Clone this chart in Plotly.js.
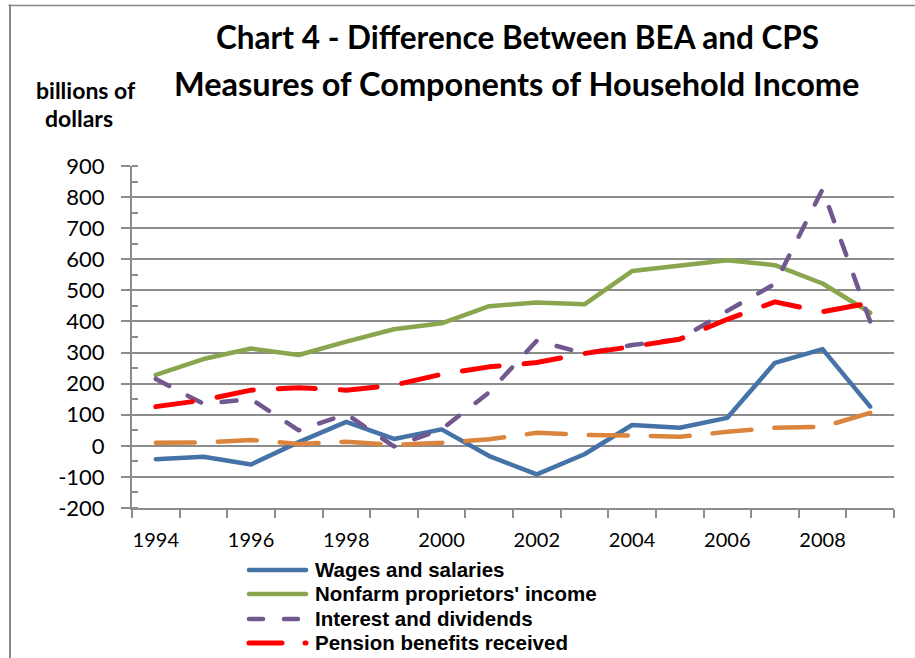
<!DOCTYPE html>
<html>
<head>
<meta charset="utf-8">
<script src="https://cdn.plot.ly/plotly-3.0.1.min.js"></script>
<style>
  html, body { margin: 0; padding: 0; background: #fff; }
  #chart { width: 915px; height: 658px; }
  #chart .scatterlayer path.js-line { stroke-linecap: round; stroke-linejoin: round; }
  #chart .shapelayer path { stroke-linecap: round; }
</style>
</head>
<body>
<div id="chart"></div>
<script>
// ---- data ----
const years = [1994, 1995, 1996, 1997, 1998, 1999, 2000, 2001, 2002, 2003, 2004, 2005, 2006, 2007, 2008, 2009];
const wages = [-43, -35, -60, 12, 77, 22, 53, -33, -92, -27, 67, 58, 90, 267, 311, 126];
const nonfarm = [228, 279, 313, 292, 335, 375, 394, 449, 461, 455, 562, 578, 597, 581, 522, 428];
const interest = [215, 135, 150, 50, 102, -2, 53, 172, 338, 297, 324, 343, 434, 521, 825, 400];
const pension = [126, 147, 179, 187, 179, 195, 230, 254, 268, 297, 319, 343, 407, 463, 431, 460];
const other = [10, 11, 19, 6, 13, 3, 10, 21, 42, 35, 33, 29, 45, 58, 61, 106];
const xLabelYears = [1994, 1996, 1998, 2000, 2002, 2004, 2006, 2008];
const yTicks = [-200, -100, 0, 100, 200, 300, 400, 500, 600, 700, 800, 900];
const yTickText = ['-200', '-100', '0', '100', '200', '300', '400', '500', '600', '700', '800', '900'];

const seriesNames = ["Wages and salaries", "Nonfarm proprietors' income", "Interest and dividends", "Pension benefits received"];

// ---- layout geometry ----
const W = 915, H = 658;
const M = { l: 132, r: 21, t: 166, b: 150, autoexpand: false };
const pw = W - M.l - M.r, ph = H - M.t - M.b;
const px2x = p => (p - M.l) / pw;
const px2y = p => (H - M.b - p) / ph;

const grid = '#8c8c8c';
const boundaries = [];
for (let i = 0; i <= years.length; i++) boundaries.push(years[0] - 0.5 + i);

const styles = [
  { color: '#4572A7', width: 4.5 },
  { color: '#89A54E', width: 4.5 },
  { color: '#71588F', width: 4.5, dash: '15px,21px' },
  { color: '#FF0000', width: 5, dash: '37px,25px' },
  { color: '#DB843D', width: 4.5, dash: '39px,23px' }
];
const legendStyles = [
  { color: '#4572A7', width: 4.5 },
  { color: '#89A54E', width: 4.5 },
  { color: '#71588F', width: 4.5, dash: '14px,21px' },
  { color: '#FF0000', width: 5, dash: '33px,23px' }
];

const traces = [
  { x: years, y: wages, name: seriesNames[0], mode: 'lines', line: styles[0] },
  { x: years, y: nonfarm, name: seriesNames[1], mode: 'lines', line: styles[1] },
  { x: years, y: interest, name: seriesNames[2], mode: 'lines', line: styles[2] },
  { x: years, y: pension, name: seriesNames[3], mode: 'lines', line: styles[3] },
  { x: years, y: other, name: 'other', mode: 'lines', line: styles[4] },
  { x: [years[0]], y: [null], xaxis: 'x2', hoverinfo: 'skip', mode: 'lines' }
];

// custom legend (to match the reference's compact rows and long samples)
const legRowY = [569, 593, 618, 642];
const legendAnn = seriesNames.map((n, i) => ({
  text: '<b>' + n.replace(/'/g, '&#39;') + '</b>', xref: 'paper', yref: 'paper',
  x: px2x(313), y: px2y(legRowY[i]), xanchor: 'left', yanchor: 'middle', showarrow: false,
  font: { family: '"Liberation Sans", Arial, sans-serif', size: 20.5, color: '#000' }
}));
const legendShapes = seriesNames.map((n, i) => ({
  type: 'line', xref: 'paper', yref: 'paper',
  x0: px2x(249), x1: px2x(306), y0: px2y(legRowY[i] + 1), y1: px2y(legRowY[i] + 1),
  line: legendStyles[i]
}));

const layout = {
  width: W, height: H,
  margin: M,
  paper_bgcolor: '#fff', plot_bgcolor: '#fff',
  showlegend: false,
  font: { family: 'Lato, "Liberation Sans", sans-serif', color: '#000' },
  xaxis: {
    range: [years[0] - 0.5, years[years.length - 1] + 0.5],
    tickmode: 'array', tickvals: boundaries, showticklabels: false,
    ticks: 'outside', ticklen: 8, tickwidth: 2, tickcolor: grid,
    showgrid: false, zeroline: false,
    showline: true, linecolor: grid, linewidth: 2, fixedrange: true
  },
  xaxis2: {
    overlaying: 'x', anchor: 'y', side: 'bottom',
    range: [years[0] - 0.5, years[years.length - 1] + 0.5],
    tickmode: 'array', tickvals: xLabelYears, ticktext: xLabelYears.map(String),
    ticks: 'outside', ticklen: 14, tickcolor: 'rgba(0,0,0,0)',
    showgrid: false, zeroline: false, showline: false,
    tickfont: { family: 'Lato, sans-serif', size: 20, color: '#000' }
  },
  yaxis: {
    range: [-200, 900],
    tickmode: 'array', tickvals: yTicks, ticktext: yTickText,
    ticks: 'outside', ticklen: 9, tickwidth: 2, tickcolor: grid,
    ticklabelstandoff: 12,
    showgrid: true, gridcolor: grid, gridwidth: 2, zeroline: false,
    showline: true, linecolor: grid, linewidth: 2,
    tickfont: { family: 'Lato, sans-serif', size: 22, color: '#000' },
    minor: { dtick: 50, ticks: 'inside', ticklen: 6, tickwidth: 2, tickcolor: grid, showgrid: false }
  },
  annotations: [
    { text: '<b>Chart 4 - Difference Between BEA and CPS</b>', xref: 'paper', yref: 'paper',
      x: px2x(517), y: px2y(37), xanchor: 'center', yanchor: 'middle', showarrow: false,
      font: { family: 'Lato, sans-serif', size: 31.5, color: '#000' } },
    { text: '<b>Measures of Components of Household Income</b>', xref: 'paper', yref: 'paper',
      x: px2x(516), y: px2y(83), xanchor: 'center', yanchor: 'middle', showarrow: false,
      font: { family: 'Lato, sans-serif', size: 32.5, color: '#000' } },
    { text: '<b>billions of</b>', xref: 'paper', yref: 'paper',
      x: px2x(86), y: px2y(90), xanchor: 'center', yanchor: 'middle', showarrow: false,
      font: { family: 'Lato, sans-serif', size: 23, color: '#000' } },
    { text: '<b>dollars</b>', xref: 'paper', yref: 'paper',
      x: px2x(79), y: px2y(118), xanchor: 'center', yanchor: 'middle', showarrow: false,
      font: { family: 'Lato, sans-serif', size: 23, color: '#000' } }
  ].concat(legendAnn),
  shapes: [
    { type: 'line', xref: 'paper', yref: 'paper', x0: px2x(10), x1: px2x(10), y0: px2y(5), y1: px2y(H + 5),
      line: { color: '#888', width: 2 } },
    { type: 'line', xref: 'paper', yref: 'paper', x0: px2x(9), x1: px2x(W + 5), y0: px2y(5.5), y1: px2y(5.5),
      line: { color: '#888', width: 1.5 } }
  ].concat(legendShapes)
};

Plotly.newPlot('chart', traces, layout, { displayModeBar: false, staticPlot: true });
</script>
</body>
</html>
